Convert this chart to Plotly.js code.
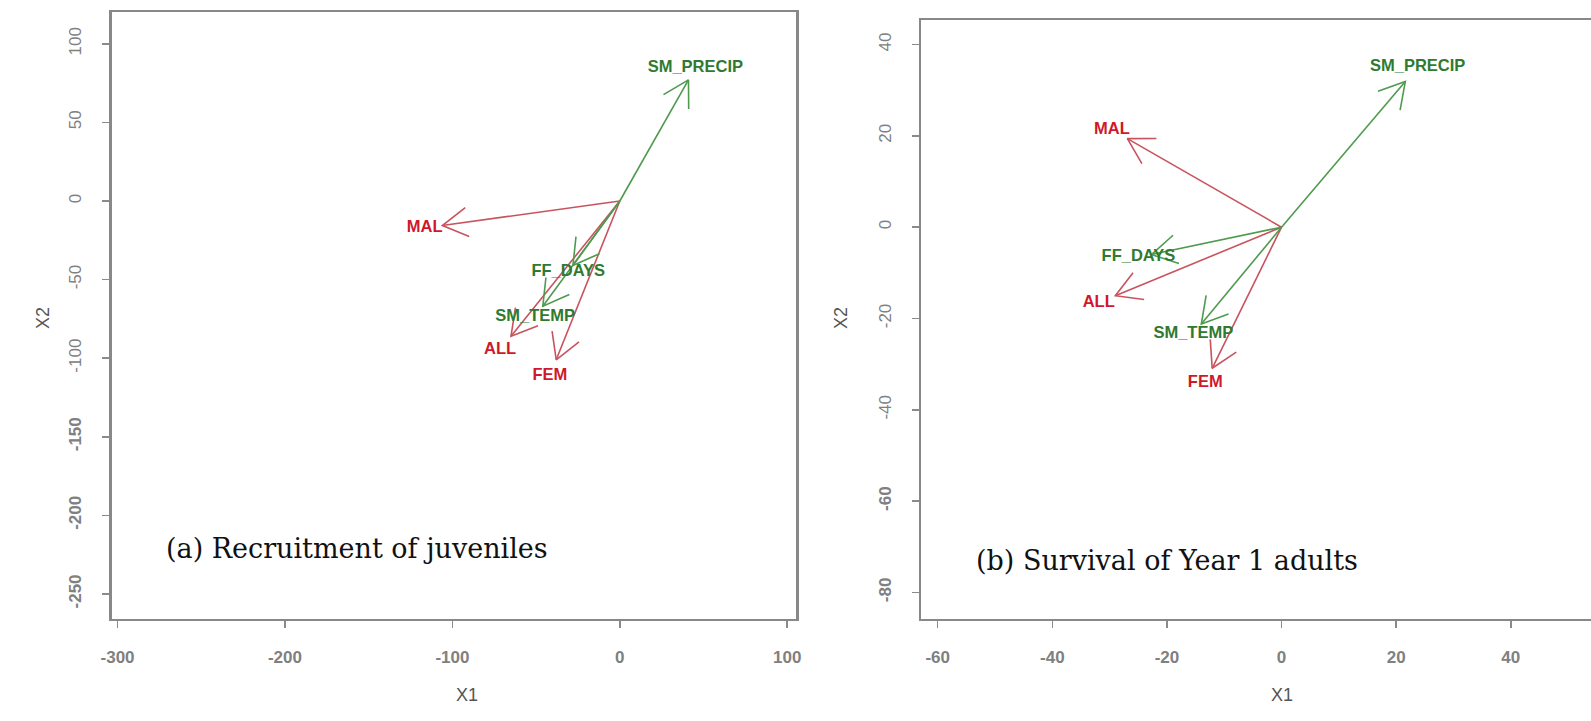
<!DOCTYPE html>
<html>
<head>
<meta charset="utf-8">
<script src="https://cdn.plot.ly/plotly-3.0.1.min.js"></script>
<style>html,body{margin:0;padding:0;background:#fff;}#chart{width:1591px;height:721px;}</style>
</head>
<body>
<div id="chart"></div>
<script>
// ---- data ----
const variables = ['MAL', 'FEM', 'ALL', 'SM_PRECIP', 'FF_DAYS', 'SM_TEMP'];
const isResponse = [true, true, true, false, false, false];
// (a) Recruitment of juveniles
const recruitX1 = [-106, -38, -65, 41, -28, -46];
const recruitX2 = [-15.6, -101, -86, 77, -41, -67];
// (b) Survival of Year 1 adults
const survivalX1 = [-26.9, -12.1, -29, 21.6, -22.7, -14];
const survivalX2 = [19.4, -30.9, -15, 31.9, -6, -21.2];
// tick labels
const aXTicks = [-300, -200, -100, 0, 100];
const aYTicks = [100, 50, 0, -50, -100, -150, -200, -250];
const bXTicks = [-60, -40, -20, 0, 20, 40];
const bYTicks = [40, 20, 0, -20, -40, -60, -80];
const captions = ['(a) Recruitment of juveniles', '(b) Survival of Year 1 adults'];

// ---- layout geometry ----
const W = 1591, H = 721;
const panels = [
  {x1: recruitX1, x2: recruitX2, xr: [-303.6, 105.5], yr: [-265.9, 120.1],
   xd: [0.0701, 0.5006], yd: [0.1415, 0.9831], xa: 'x', ya: 'y'},
  {x1: survivalX1, x2: survivalX2, xr: [-62.85, 54.0], yr: [-85.8, 45.3],
   xd: [0.5791, 1.0], yd: [0.1415, 0.9718], xa: 'x2', ya: 'y2'}
];

const RED_LINE = '#c8535f', GREEN_LINE = '#4e9a4e';
const RED_TEXT = '#d0182a', GREEN_TEXT = '#2f7a2f';
const HEAD_LEN = 29, HEAD_ANG = Math.PI / 6;

const traces = [];
panels.forEach(p => {
  const sx = (p.xd[1] - p.xd[0]) * W / (p.xr[1] - p.xr[0]);
  const sy = (p.yd[1] - p.yd[0]) * H / (p.yr[1] - p.yr[0]);
  variables.forEach((v, i) => {
    const tx = p.x1[i], ty = p.x2[i];
    const col = isResponse[i] ? RED_LINE : GREEN_LINE;
    traces.push({x: [0, tx], y: [0, ty], xaxis: p.xa, yaxis: p.ya, mode: 'lines',
      line: {color: col, width: 1.6}, hoverinfo: 'skip', showlegend: false});
    const ang = Math.atan2(ty * sy, tx * sx);
    const b1 = ang + Math.PI + HEAD_ANG, b2 = ang + Math.PI - HEAD_ANG;
    traces.push({
      x: [tx + HEAD_LEN * Math.cos(b1) / sx, tx, tx + HEAD_LEN * Math.cos(b2) / sx],
      y: [ty + HEAD_LEN * Math.sin(b1) / sy, ty, ty + HEAD_LEN * Math.sin(b2) / sy],
      xaxis: p.xa, yaxis: p.ya, mode: 'lines',
      line: {color: col, width: 1.6}, hoverinfo: 'skip', showlegend: false});
  });
  traces.push({x: p.x1.map(v => v * 1.1), y: p.x2.map(v => v * 1.1), text: variables,
    xaxis: p.xa, yaxis: p.ya, mode: 'text', textposition: 'middle center',
    textfont: {family: 'Liberation Sans, Arial, sans-serif', size: 16.5, weight: 'bold',
      color: isResponse.map(r => r ? RED_TEXT : GREEN_TEXT)},
    hoverinfo: 'skip', showlegend: false});
});

function fmtTick(v, faded) {
  return faded ? '<b>' + v + '</b>' : String(v);
}

function axisBase(range, domain, ticks, anchor, fadedBelow) {
  return {range: range, domain: domain, anchor: anchor, tickmode: 'array', tickvals: ticks,
    ticktext: ticks.map(v => fmtTick(v, v < fadedBelow)),
    ticks: 'outside', ticklen: 7, tickwidth: 1.5, tickcolor: '#8a8a8a',
    showline: true, linecolor: '#888', linewidth: 2.5, showgrid: false, zeroline: false,
    tickfont: {family: 'Liberation Sans, Arial, sans-serif', size: 17, color: '#808080'},
    ticklabelstandoff: 14, fixedrange: true};
}

const layout = {
  width: W, height: H, margin: {l: 0, r: 0, t: 0, b: 0},
  paper_bgcolor: '#fff', plot_bgcolor: '#fff', showlegend: false,
  xaxis: Object.assign(axisBase(panels[0].xr, panels[0].xd, aXTicks, 'y', Infinity), {mirror: true}),
  yaxis: Object.assign(axisBase(panels[0].yr, panels[0].yd, aYTicks, 'x', -120), {mirror: true, tickangle: -90}),
  xaxis2: Object.assign(axisBase(panels[1].xr, panels[1].xd, bXTicks, 'y2', Infinity), {mirror: true}),
  yaxis2: Object.assign(axisBase(panels[1].yr, panels[1].yd, bYTicks, 'x2', -50), {mirror: false, tickangle: -90}),
  annotations: [
    {text: captions[0], xref: 'paper', yref: 'paper', x: 164 / W, y: 1 - 548 / H, xanchor: 'left', yanchor: 'middle',
     showarrow: false, font: {family: 'DejaVu Serif, serif', size: 27, color: '#111'}},
    {text: captions[1], xref: 'paper', yref: 'paper', x: 974 / W, y: 1 - 560 / H, xanchor: 'left', yanchor: 'middle',
     showarrow: false, font: {family: 'DejaVu Serif, serif', size: 27, color: '#111'}},
    {text: 'X1', xref: 'paper', yref: 'paper', x: 454 / W, y: 1 - 707 / H, showarrow: false,
     font: {family: 'Liberation Sans, Arial, sans-serif', size: 18, color: '#555'}},
    {text: 'X1', xref: 'x2', yref: 'paper', x: 0, y: 1 - 707 / H, showarrow: false,
     font: {family: 'Liberation Sans, Arial, sans-serif', size: 18, color: '#555'}},
    {text: 'X2', xref: 'paper', yref: 'paper', x: 31 / W, y: 1 - 318 / H, showarrow: false, textangle: -90,
     font: {family: 'Liberation Sans, Arial, sans-serif', size: 18, color: '#555'}},
    {text: 'X2', xref: 'paper', yref: 'paper', x: 841 / W, y: 1 - 318 / H, showarrow: false, textangle: -90,
     font: {family: 'Liberation Sans, Arial, sans-serif', size: 18, color: '#555'}}
  ]
};

Plotly.newPlot('chart', traces, layout, {displayModeBar: false, staticPlot: true});
</script>
</body>
</html>
